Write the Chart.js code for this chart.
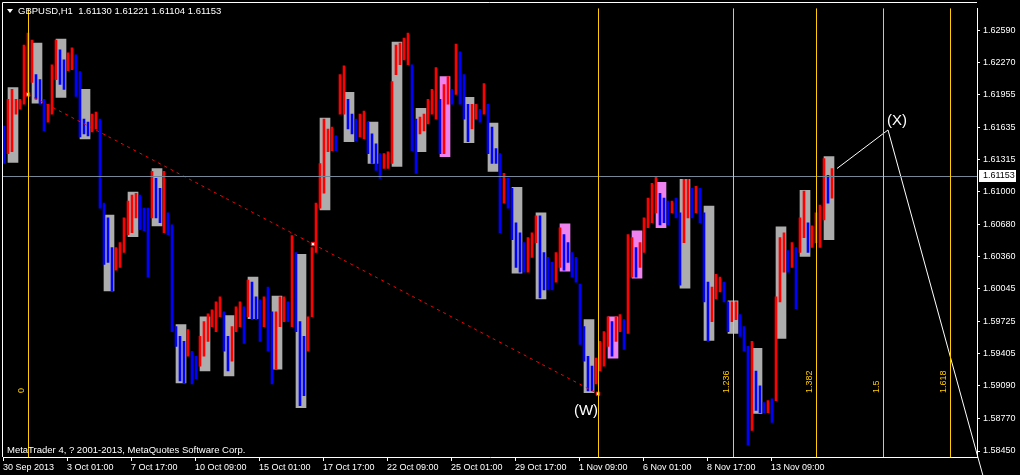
<!DOCTYPE html>
<html>
<head>
<meta charset="utf-8">
<script src="https://cdn.jsdelivr.net/npm/chart.js@4.4.0/dist/chart.umd.min.js"></script>
<style>
html, body { margin: 0; padding: 0; background: #000; }
#wrap { width: 1020px; height: 475px; }
</style>
</head>
<body>
<div id="wrap"><canvas class="myChart" width="1020" height="475"></canvas></div>
<script>
// GBPUSD H1, one entry per 4 hours (high / low of that block)
var STEP = 4;
var priceHigh = [
  1.61647, 1.61910, 1.62007, 1.61910, 1.61910, 1.62444, 1.62561, 1.62493,
  1.62153, 1.62104, 1.61910, 1.61861, 1.62250, 1.62493, 1.62396, 1.62298,
  1.62366, 1.62415, 1.62347, 1.62182, 1.61715, 1.61686, 1.61764, 1.61783,
  1.61715, 1.60889, 1.60743, 1.60452, 1.60452, 1.60500, 1.60743, 1.60908,
  1.60967, 1.60986, 1.60967, 1.60840, 1.60840, 1.61200, 1.61132, 1.61035,
  1.61200, 1.60792, 1.60675, 1.59674, 1.59577, 1.59528, 1.59645, 1.59431,
  1.59382, 1.59577, 1.59723, 1.59800, 1.59839, 1.59917, 1.59966, 1.59820,
  1.59577, 1.59674, 1.59868, 1.59917, 1.59868, 1.60131, 1.60111, 1.59966,
  1.59936, 1.59966, 1.60063, 1.59820, 1.59820, 1.59966, 1.59966, 1.59917,
  1.60568, 1.60403, 1.59723, 1.59577, 1.59771, 1.60452, 1.60889, 1.61278,
  1.61715, 1.61618, 1.61637, 1.61550, 1.62153, 1.62240, 1.61910, 1.61764,
  1.61715, 1.61764, 1.61793, 1.61686, 1.61569, 1.61472, 1.61375, 1.61375,
  1.61394, 1.62085, 1.62444, 1.62464, 1.62512, 1.62561, 1.62250, 1.61715,
  1.61735, 1.61764, 1.61910, 1.62007, 1.62221, 1.61910, 1.62055, 1.62133,
  1.62007, 1.62454, 1.62376, 1.62153, 1.61861, 1.61861, 1.61861, 1.61812,
  1.62065, 1.61861, 1.61637, 1.61424, 1.61375, 1.61181, 1.61132, 1.61035,
  1.60695, 1.60597, 1.60500, 1.60549, 1.60597, 1.60763, 1.60763, 1.60403,
  1.60354, 1.60306, 1.60403, 1.60646, 1.60578, 1.60500, 1.60403, 1.60354,
  1.60092, 1.59674, 1.59382, 1.59285, 1.59363, 1.59528, 1.59625, 1.59771,
  1.59723, 1.59771, 1.59791, 1.59742, 1.60578, 1.60549, 1.60452, 1.60500,
  1.60743, 1.60938, 1.61083, 1.61151, 1.60986, 1.60938, 1.60908, 1.60908,
  1.60938, 1.60792, 1.61122, 1.61122, 1.61035, 1.61054, 1.61035, 1.60792,
  1.60111, 1.60063, 1.60189, 1.60160, 1.60111, 1.59917, 1.59917, 1.59917,
  1.59791, 1.59674, 1.59480, 1.59528, 1.59237, 1.59091, 1.58926, 1.58945,
  1.58964, 1.59966, 1.60549, 1.60597, 1.60422, 1.60500, 1.60452, 1.60743,
  1.61006, 1.60695, 1.60665, 1.60792, 1.60870, 1.61326, 1.61161, 1.61229
];
var priceLow = [
  1.61278, 1.61375, 1.61394, 1.61764, 1.61812, 1.61861, 1.61958, 1.62075,
  1.61910, 1.61861, 1.61599, 1.61686, 1.61764, 1.62104, 1.62055, 1.62007,
  1.62191, 1.62201, 1.61939, 1.61540, 1.61569, 1.61550, 1.61589, 1.61618,
  1.60840, 1.60286, 1.60306, 1.60024, 1.60228, 1.60257, 1.60403, 1.60578,
  1.60597, 1.60743, 1.60627, 1.60617, 1.60160, 1.60743, 1.60743, 1.60695,
  1.60597, 1.60578, 1.59625, 1.59480, 1.59139, 1.59120, 1.59382, 1.59110,
  1.59159, 1.59285, 1.59382, 1.59528, 1.59674, 1.59625, 1.59771, 1.59431,
  1.59237, 1.59334, 1.59625, 1.59674, 1.59509, 1.59771, 1.59742, 1.59742,
  1.59528, 1.59674, 1.59431, 1.59110, 1.59256, 1.59674, 1.59723, 1.59723,
  1.59674, 1.59625, 1.58896, 1.58994, 1.59431, 1.59771, 1.60403, 1.60840,
  1.60986, 1.61394, 1.61404, 1.61404, 1.61764, 1.61764, 1.61618, 1.61569,
  1.61501, 1.61540, 1.61521, 1.61375, 1.61278, 1.61210, 1.61132, 1.61229,
  1.61229, 1.61278, 1.62153, 1.62250, 1.62298, 1.62250, 1.61404, 1.61181,
  1.61569, 1.61599, 1.61667, 1.61764, 1.61715, 1.61375, 1.61375, 1.61861,
  1.61861, 1.61958, 1.61861, 1.61715, 1.61492, 1.61618, 1.61715, 1.61686,
  1.61764, 1.61375, 1.61278, 1.61278, 1.60597, 1.60889, 1.60840, 1.60529,
  1.60257, 1.60209, 1.60209, 1.60209, 1.60354, 1.60500, 1.59956, 1.60034,
  1.60034, 1.60034, 1.60111, 1.60257, 1.60228, 1.60306, 1.60160, 1.60111,
  1.59499, 1.59334, 1.59042, 1.59042, 1.59110, 1.59237, 1.59285, 1.59480,
  1.59382, 1.59528, 1.59625, 1.59450, 1.59606, 1.60160, 1.60160, 1.60257,
  1.60403, 1.60646, 1.60695, 1.60792, 1.60675, 1.60695, 1.60675, 1.60792,
  1.60743, 1.60082, 1.60500, 1.60743, 1.60743, 1.60792, 1.60695, 1.59917,
  1.59528, 1.59723, 1.59946, 1.60014, 1.59917, 1.59625, 1.59723, 1.59742,
  1.59577, 1.59431, 1.58508, 1.58653, 1.58848, 1.58828, 1.58828, 1.58828,
  1.58731, 1.58945, 1.59917, 1.60209, 1.60209, 1.60257, 1.59849, 1.60403,
  1.60549, 1.60403, 1.60452, 1.60500, 1.60452, 1.60724, 1.60889, 1.60938
];

// daily range boxes, one per day (g = grey, p = pink)
var boxHigh = [
  1.62026, 1.62464, 1.62503, 1.62007, 1.60772, 1.60996, 1.61229, 1.59693,
  1.59771, 1.59781, 1.60160, 1.59975, 1.60384, 1.61725, 1.61978, 1.61686,
  1.62473, 1.61822, 1.62133, 1.61929, 1.61676, 1.61045, 1.60792, 1.60685,
  1.59742, 1.59771, 1.60617, 1.61093, 1.61122, 1.60860, 1.59927, 1.59460,
  1.60656, 1.61015, 1.61346
];
var boxLow = [
  1.61288, 1.61871, 1.61929, 1.61521, 1.60024, 1.60559, 1.60665, 1.59120,
  1.59237, 1.59188, 1.59752, 1.59256, 1.58877, 1.60821, 1.61492, 1.61278,
  1.61249, 1.61394, 1.61346, 1.61482, 1.61200, 1.60199, 1.59946, 1.60218,
  1.59023, 1.59363, 1.60150, 1.60646, 1.60053, 1.59538, 1.59606, 1.58819,
  1.59557, 1.60364, 1.60529
];
var boxKind = [
  'g','g','g','g','g','g','g','g','g','g','g','g','g','g','g','g','g','g',
  'p','g','g','g','g','p','g','p','p','p','g','g','g','g','g','g','g'
];

var xTickHours = [0, 64, 128, 192, 256, 320, 384, 448, 512, 576, 640, 704, 768];
var xTickLabels = ['30 Sep 2013', '3 Oct 01:00', '7 Oct 17:00', '10 Oct 09:00', '15 Oct 01:00',
  '17 Oct 17:00', '22 Oct 09:00', '25 Oct 01:00', '29 Oct 17:00', '1 Nov 09:00',
  '6 Nov 01:00', '8 Nov 17:00', '13 Nov 09:00'];
var yTicks = [1.62590, 1.62270, 1.61955, 1.61635, 1.61315, 1.61000, 1.60680,
  1.60360, 1.60045, 1.59725, 1.59405, 1.59090, 1.58770, 1.58450];

var fibLevels = [0, 1, 1.236, 1.382, 1.5, 1.618];
var fibLabels = ['0', '', '1.236', '1.382', '1.5', '1.618'];
var fibFrom = 25, fibTo = 595;

var trendFrom = {x: 25, y: 1.61958};
var trendTo = {x: 595, y: 1.59013};
var waveHours = [834, 885, 980];
var wavePrices = [1.61229, 1.61608, 1.58206];
var bid = 1.61153;

var RED = '#ff0000', BLUE = '#0000ff', FIB = '#ffcc00';

var priceData = [], priceColors = [];
for (var i = 0; i < priceHigh.length; i++) {
  priceData.push({x: i * STEP + 1, y: [priceLow[i], priceHigh[i]]});
  var mid = (priceLow[i] + priceHigh[i]) / 2;
  var prev = i > 0 ? (priceLow[i - 1] + priceHigh[i - 1]) / 2 : mid + 1;
  priceColors.push(mid > prev ? RED : BLUE);
}
var boxData = [], boxColors = [];
for (var k = 0; k < boxHigh.length; k++) {
  boxData.push({x: 10 + 24 * k, y: [boxLow[k], boxHigh[k]]});
  boxColors.push(boxKind[k] == 'p' ? '#ee82ee' : '#adadad');
}
var trendMid = {x: (trendFrom.x + trendTo.x) / 2, y: (trendFrom.y + trendTo.y) / 2};

var overlay = {
  id: 'mtOverlay',
  beforeDraw: function (chart) {
    var c = chart.ctx;
    c.save();
    c.fillStyle = '#000';
    c.fillRect(0, 0, chart.width, chart.height);
    c.restore();
  },
  afterDatasetsDraw: function (chart) {
    var c = chart.ctx, a = chart.chartArea;
    var xs = chart.scales.x, ys = chart.scales.y;
    c.save();
    // bid line
    var by = Math.round(ys.getPixelForValue(bid)) + 0.5;
    c.strokeStyle = '#778899';
    c.lineWidth = 1;
    c.beginPath(); c.moveTo(a.left, by); c.lineTo(a.right, by); c.stroke();
    // fibo time zones
    c.font = '9px "Liberation Sans"';
    c.textBaseline = 'alphabetic';
    c.textAlign = 'left';
    for (var i = 0; i < fibLevels.length; i++) {
      var h = fibFrom + (fibTo - fibFrom) * fibLevels[i];
      var px = Math.round(xs.getPixelForValue(h)) + 0.5;
      c.strokeStyle = FIB;
      c.beginPath(); c.moveTo(px, a.top); c.lineTo(px, a.bottom); c.stroke();
      if (fibLabels[i]) {
        c.save();
        c.translate(px - 4.5, a.bottom - 64);
        c.rotate(-Math.PI / 2);
        c.fillStyle = FIB;
        c.fillText(fibLabels[i], 0, 0);
        c.restore();
      }
    }
    // wave labels
    c.font = '15px "Liberation Sans"';
    c.fillStyle = '#fff';
    c.textAlign = 'center';
    c.textBaseline = 'middle';
    c.fillText('(W)', xs.getPixelForValue(583), ys.getPixelForValue(1.58848));
    c.fillText('(X)', xs.getPixelForValue(894), ys.getPixelForValue(1.61696));
    c.restore();
  },
  afterDraw: function (chart) {
    var c = chart.ctx, a = chart.chartArea, ys = chart.scales.y;
    c.save();
    c.strokeStyle = '#fff';
    c.lineWidth = 1;
    c.beginPath();
    c.moveTo(2.5, a.bottom); c.lineTo(2.5, 2.5); c.lineTo(a.right, 2.5);
    c.stroke();
    // header
    c.fillStyle = '#fff';
    c.beginPath(); c.moveTo(7, 9); c.lineTo(13, 9); c.lineTo(10, 13); c.closePath(); c.fill();
    c.font = '9.5px "Liberation Sans"';
    c.textAlign = 'left';
    c.textBaseline = 'middle';
    c.fillText('GBPUSD,H1  1.61130 1.61221 1.61104 1.61153', 18, 11);
    c.fillText('MetaTrader 4, ? 2001-2013, MetaQuotes Software Corp.', 7, 450);
    // bid price label
    var by = Math.round(ys.getPixelForValue(bid));
    c.fillRect(a.right + 2, by - 6, 37, 12);
    c.fillStyle = '#000';
    c.font = '9px "Liberation Sans"';
    c.fillText(bid.toFixed(5), a.right + 6, by);
    c.restore();
  }
};

Chart.defaults.font.family = '"Liberation Sans", Arial, sans-serif';
Chart.defaults.font.size = 9;
Chart.defaults.color = '#fff';

var ctx = document.getElementsByClassName('myChart')[0].getContext('2d');
var chart = new Chart(ctx, {
  type: 'bar',
  data: {
    datasets: [
      {
        type: 'line',
        data: [trendFrom, trendMid, trendTo],
        showLine: false,
        pointStyle: 'rect',
        pointRadius: 2.5,
        pointBackgroundColor: '#fff',
        pointBorderColor: RED,
        pointBorderWidth: 1,
        order: -2
      },
      {
        type: 'line',
        data: [trendFrom, trendTo],
        borderColor: RED,
        borderWidth: 1,
        borderDash: [3, 4],
        pointRadius: 0,
        order: -1
      },
      {
        type: 'line',
        data: waveHours.map(function (h, i) { return {x: h, y: wavePrices[i]}; }),
        borderColor: '#fff',
        borderWidth: 1,
        pointRadius: 0,
        clip: false,
        order: -1
      },
      {
        data: priceData,
        backgroundColor: priceColors,
        borderWidth: 0,
        grouped: false,
        barThickness: 2,
        barPercentage: 1,
        categoryPercentage: 1,
        order: 1
      },
      {
        data: boxData,
        backgroundColor: boxColors,
        borderWidth: 0,
        grouped: false,
        barThickness: 10,
        barPercentage: 1,
        categoryPercentage: 1,
        order: 2
      }
    ]
  },
  options: {
    responsive: false,
    devicePixelRatio: 1,
    animation: false,
    events: [],
    layout: { autoPadding: false, padding: { left: 3, top: 3, right: 0, bottom: 0 } },
    plugins: { legend: { display: false }, tooltip: { enabled: false } },
    scales: {
      x: {
        type: 'linear',
        min: 0,
        max: 974,
        offset: false,
        afterBuildTicks: function (s) { s.ticks = xTickHours.map(function (v) { return {value: v}; }); },
        afterFit: function (s) { s.height = 18; },
        ticks: {
          color: '#fff',
          autoSkip: false,
          maxRotation: 0,
          align: 'start',
          padding: 1,
          callback: function (v, i) { return xTickLabels[i]; }
        },
        grid: { drawOnChartArea: false, tickLength: 4, color: '#fff', offset: false },
        border: { color: '#fff' }
      },
      y: {
        type: 'linear',
        position: 'right',
        min: 1.58391,
        max: 1.62804,
        afterBuildTicks: function (s) { s.ticks = yTicks.map(function (v) { return {value: v}; }); },
        afterFit: function (s) { s.width = 43; },
        ticks: {
          color: '#fff',
          padding: 3,
          callback: function (v) { return v.toFixed(5); }
        },
        grid: { drawOnChartArea: false, tickLength: 3, color: '#fff' },
        border: { color: '#fff' }
      }
    }
  },
  plugins: [overlay]
});
</script>
</body>
</html>
